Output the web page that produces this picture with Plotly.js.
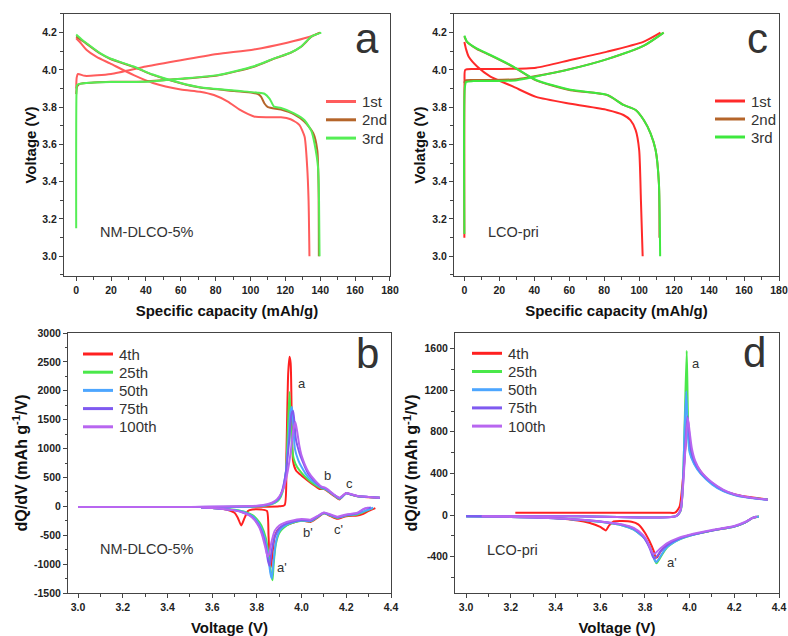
<!DOCTYPE html>
<html>
<head>
<meta charset="utf-8">
<script src="https://cdn.plot.ly/plotly-3.0.1.min.js"></script>
<style>
  html, body { margin: 0; padding: 0; background: #fff; }
  #chart { width: 788px; height: 636px; }
</style>
</head>
<body>
<div id="chart"></div>
<script>
// ---------- (a) NM-DLCO-5%: charge / discharge profiles ----------
const aCycleNames = ['1st', '2nd', '3rd'];
const a1ChgCap = [0, 0.3, 1, 5, 20, 40, 60, 81, 102, 121, 133, 140];
const a1ChgV   = [3.9, 3.96, 3.978, 3.968, 3.978, 4.018, 4.052, 4.085, 4.11, 4.146, 4.175, 4.2];
const a1DisCap = [0, 3, 6, 11.7, 19.4, 33, 44, 60, 71, 79, 87, 94, 102, 110, 117.5, 123, 128, 131, 132.5, 133.3, 133.8];
const a1DisV   = [4.17, 4.14, 4.107, 4.07, 4.035, 3.972, 3.93, 3.895, 3.883, 3.865, 3.83, 3.785, 3.75, 3.746, 3.746, 3.735, 3.705, 3.642, 3.48, 3.30, 3.0];

const a2ChgCap = [0, 0.5, 2, 10, 20, 40, 60, 81, 102, 113.7, 123, 129, 135, 140];
const a2ChgV   = [3.87, 3.91, 3.925, 3.932, 3.936, 3.938, 3.952, 3.97, 4.017, 4.061, 4.092, 4.124, 4.178, 4.2];
const a2DisCap = [0, 3, 6, 13.7, 19.4, 33, 44, 60, 71, 90.6, 101, 104, 106, 108, 110, 117.5, 125, 131, 136, 138.3, 139, 139.2];
const a2DisV   = [4.18, 4.16, 4.14, 4.088, 4.06, 4.016, 3.973, 3.928, 3.905, 3.887, 3.878, 3.872, 3.857, 3.82, 3.80, 3.787, 3.762, 3.722, 3.66, 3.57, 3.39, 3.0];

const a3ChgCap = [0, 0.2, 0.6, 6, 19.4, 40, 60.8, 81, 102, 113.7, 123, 129, 135, 140.6];
const a3ChgV   = [3.15, 3.88, 3.92, 3.93, 3.935, 3.936, 3.953, 3.972, 4.02, 4.062, 4.093, 4.125, 4.18, 4.2];
const a3DisCap = [0, 3, 6, 13.7, 19.4, 33, 44, 60, 71, 90.6, 104, 108, 111, 113.5, 117.5, 125, 131, 135, 136.7, 138.7, 139.3, 139.6];
const a3DisV   = [4.19, 4.165, 4.143, 4.09, 4.062, 4.018, 3.975, 3.93, 3.907, 3.889, 3.878, 3.872, 3.845, 3.803, 3.796, 3.767, 3.73, 3.67, 3.605, 3.48, 3.3, 3.0];

// ---------- (c) LCO-pri: charge / discharge profiles ----------
const cCycleNames = ['1st', '2nd', '3rd'];
const c1ChgCap = [0, 0.1, 0.5, 5, 20, 41, 60.7, 81.7, 102.7, 112.2];
const c1ChgV   = [3.1, 3.93, 4.0, 4.005, 4.005, 4.012, 4.053, 4.098, 4.152, 4.2];
const c1DisCap = [0, 1, 2.5, 7.3, 14.9, 28, 41, 60.7, 81.7, 91, 95, 98, 100, 101, 102];
const c1DisV   = [4.15, 4.11, 4.07, 4.018, 3.964, 3.91, 3.855, 3.818, 3.785, 3.758, 3.73, 3.677, 3.57, 3.30, 3.0];

const c2ChgCap = [0, 0.3, 1, 5, 15, 30, 41, 60.7, 81.7, 102.7, 114];
const c2ChgV   = [3.93, 3.94, 3.945, 3.946, 3.946, 3.95, 3.967, 4.005, 4.058, 4.13, 4.2];
const c2DisCap = [0, 1.5, 7, 14.9, 28, 41, 60.7, 81.7, 91, 98, 102.7, 106.5, 109.4, 111.3, 111.6];
const c2DisV   = [4.18, 4.15, 4.113, 4.078, 4.016, 3.944, 3.891, 3.865, 3.812, 3.785, 3.73, 3.66, 3.57, 3.39, 3.1];

const c3ChgCap = [0, 0.2, 1, 5, 15, 30, 41, 60.7, 81.7, 102.7, 114];
const c3ChgV   = [3.12, 3.9, 3.935, 3.94, 3.94, 3.945, 3.965, 4.004, 4.058, 4.13, 4.2];
const c3DisCap = [0, 1.5, 7, 14.9, 28, 41, 60.7, 81.7, 91, 98, 102.7, 106.5, 109.4, 111.3, 112];
const c3DisV   = [4.184, 4.152, 4.115, 4.08, 4.018, 3.946, 3.893, 3.866, 3.812, 3.785, 3.73, 3.66, 3.57, 3.39, 3.0];

// ---------- (b) NM-DLCO-5%: dQ/dV curves ----------
const bCycleNames = ['4th', '25th', '50th', '75th', '100th'];
const b4ChgV = [3.0, 3.5, 3.85, 3.9, 3.924, 3.932, 3.94, 3.946, 3.951, 3.956, 3.962, 3.975, 4.0, 4.05, 4.08, 4.1, 4.12, 4.145, 4.17, 4.19, 4.2, 4.22, 4.25, 4.3, 4.35];
const b4ChgQ = [-10, -10, -8, 0, 20, 900, 2300, 2590, 2480, 1500, 780, 620, 530, 380, 300, 300, 250, 180, 120, 200, 230, 205, 175, 158, 148];
const b4DisV = [4.33, 4.3, 4.27, 4.25, 4.2, 4.16, 4.13, 4.1, 4.07, 4.04, 4.0, 3.95, 3.9, 3.88, 3.87, 3.863, 3.858, 3.852, 3.845, 3.82, 3.8, 3.78, 3.76, 3.745, 3.73, 3.715, 3.7, 3.65, 3.6];
const b4DisQ = [-30, -80, -140, -160, -170, -215, -170, -120, -200, -270, -245, -300, -380, -520, -800, -1050, -1000, -500, -80, -55, -50, -55, -80, -200, -330, -200, -110, -45, -30];

const b25ChgV = [3.0, 3.5, 3.8, 3.85, 3.88, 3.9, 3.915, 3.93, 3.938, 3.946, 3.952, 3.958, 3.965, 3.98, 4.0, 4.03, 4.06, 4.09, 4.105, 4.12, 4.145, 4.17, 4.19, 4.2, 4.22, 4.25, 4.3, 4.35];
const b25ChgQ = [-10, -10, 0, 20, 60, 120, 250, 600, 1300, 1980, 1400, 1000, 820, 680, 580, 460, 370, 310, 300, 260, 190, 130, 195, 225, 205, 175, 160, 150];
const b25DisV = [4.32, 4.3, 4.25, 4.2, 4.16, 4.13, 4.1, 4.07, 4.04, 4.0, 3.95, 3.92, 3.9, 3.885, 3.875, 3.87, 3.865, 3.855, 3.84, 3.82, 3.8, 3.78, 3.75, 3.7, 3.65, 3.6, 3.55];
const b25DisQ = [-30, -60, -140, -160, -200, -160, -120, -190, -260, -250, -300, -370, -460, -650, -1000, -1280, -1200, -900, -550, -330, -220, -150, -100, -60, -40, -30, -20];

const b50ChgV = [3.0, 3.5, 3.8, 3.85, 3.88, 3.9, 3.915, 3.93, 3.942, 3.95, 3.957, 3.963, 3.97, 3.985, 4.0, 4.03, 4.06, 4.09, 4.105, 4.12, 4.145, 4.17, 4.19, 4.2, 4.22, 4.25, 4.3, 4.35];
const b50ChgQ = [-10, -10, 0, 25, 70, 140, 280, 600, 1200, 1650, 1720, 1400, 1000, 800, 680, 500, 400, 320, 305, 265, 195, 135, 195, 225, 205, 175, 160, 150];
const b50DisV = [4.32, 4.3, 4.25, 4.2, 4.16, 4.13, 4.1, 4.07, 4.04, 4.0, 3.95, 3.92, 3.9, 3.885, 3.873, 3.867, 3.86, 3.85, 3.835, 3.82, 3.8, 3.78, 3.75, 3.7, 3.65, 3.6, 3.55];
const b50DisQ = [-25, -55, -130, -155, -195, -155, -115, -185, -255, -245, -290, -350, -430, -620, -1000, -1250, -1150, -850, -550, -380, -250, -170, -110, -65, -45, -30, -20];

const b75ChgV = [3.0, 3.5, 3.8, 3.85, 3.88, 3.9, 3.915, 3.93, 3.945, 3.955, 3.962, 3.968, 3.975, 3.99, 4.0, 4.03, 4.06, 4.09, 4.105, 4.12, 4.145, 4.17, 4.19, 4.2, 4.22, 4.25, 4.3, 4.35];
const b75ChgQ = [-10, -10, 5, 30, 80, 150, 300, 600, 1150, 1600, 1650, 1450, 1150, 930, 820, 560, 430, 330, 315, 275, 200, 145, 200, 228, 210, 178, 162, 150];
const b75DisV = [4.31, 4.28, 4.25, 4.2, 4.16, 4.13, 4.1, 4.07, 4.04, 4.0, 3.95, 3.92, 3.9, 3.88, 3.865, 3.857, 3.85, 3.84, 3.825, 3.81, 3.79, 3.77, 3.74, 3.7, 3.65, 3.6, 3.55];
const b75DisQ = [-20, -45, -120, -150, -190, -150, -110, -180, -245, -235, -275, -320, -380, -520, -800, -1030, -950, -700, -480, -340, -230, -160, -110, -70, -45, -30, -20];

const b100ChgV = [3.0, 3.5, 3.8, 3.85, 3.88, 3.9, 3.92, 3.935, 3.95, 3.962, 3.972, 3.98, 3.99, 4.0, 4.03, 4.06, 4.09, 4.105, 4.12, 4.145, 4.17, 4.19, 4.2, 4.22, 4.25, 4.3, 4.35];
const b100ChgQ = [-10, -10, 10, 40, 90, 170, 320, 550, 900, 1300, 1460, 1300, 1050, 880, 600, 450, 340, 325, 285, 205, 150, 205, 230, 212, 180, 163, 150];
const b100DisV = [4.3, 4.28, 4.25, 4.2, 4.16, 4.13, 4.1, 4.07, 4.04, 4.0, 3.95, 3.92, 3.9, 3.88, 3.865, 3.855, 3.848, 3.84, 3.825, 3.81, 3.79, 3.77, 3.74, 3.7, 3.65, 3.6, 3.55];
const b100DisQ = [-20, -40, -110, -140, -180, -140, -105, -170, -230, -220, -255, -290, -330, -420, -620, -820, -870, -750, -520, -360, -240, -165, -110, -70, -45, -30, -20];

// ---------- (d) LCO-pri: dQ/dV curves ----------
const dCycleNames = ['4th', '25th', '50th', '75th', '100th'];
const d4ChgV = [3.22, 3.5, 3.9, 3.935, 3.955, 3.97, 3.98, 3.992, 4.0, 4.01, 4.03, 4.06, 4.1, 4.15, 4.2, 4.25, 4.3, 4.35];
const d4ChgQ = [22, 22, 22, 22, 80, 350, 620, 860, 680, 570, 480, 390, 300, 235, 200, 178, 163, 150];
const d4DisV = [4.31, 4.28, 4.25, 4.2, 4.1, 4.0, 3.95, 3.9, 3.87, 3.855, 3.848, 3.84, 3.82, 3.8, 3.77, 3.74, 3.7, 3.66, 3.64, 3.625, 3.6, 3.55, 3.5, 3.4, 3.3, 3.22];
const d4DisQ = [-15, -30, -70, -110, -150, -195, -230, -280, -350, -405, -410, -350, -250, -170, -90, -65, -58, -62, -100, -148, -115, -75, -52, -30, -20, -15];

const d25ChgV = [3.0, 3.5, 3.94, 3.96, 3.97, 3.978, 3.987, 3.993, 4.0, 4.02, 4.05, 4.1, 4.15, 4.2, 4.25, 4.3, 4.35];
const d25ChgQ = [-12, -12, -10, 40, 300, 900, 1580, 900, 620, 500, 400, 300, 235, 195, 172, 158, 148];
const d25DisV = [4.31, 4.28, 4.25, 4.2, 4.1, 4.0, 3.95, 3.9, 3.88, 3.86, 3.852, 3.845, 3.835, 3.82, 3.8, 3.75, 3.7, 3.6, 3.5, 3.4, 3.2, 3.0];
const d25DisQ = [-15, -30, -70, -110, -150, -200, -240, -310, -370, -440, -465, -440, -380, -300, -230, -140, -100, -65, -45, -30, -18, -12];

const d50ChgV = [3.0, 3.5, 3.94, 3.96, 3.97, 3.978, 3.985, 3.992, 4.0, 4.02, 4.05, 4.1, 4.15, 4.2, 4.25, 4.3, 4.35];
const d50ChgQ = [-12, -12, -10, 50, 320, 850, 1190, 800, 600, 490, 395, 295, 230, 192, 170, 156, 146];
const d50DisV = [4.31, 4.28, 4.25, 4.2, 4.1, 4.0, 3.95, 3.9, 3.88, 3.86, 3.85, 3.843, 3.833, 3.82, 3.8, 3.75, 3.7, 3.6, 3.5, 3.4, 3.2, 3.0];
const d50DisQ = [-15, -30, -70, -110, -150, -200, -238, -305, -360, -430, -455, -430, -370, -300, -230, -140, -100, -65, -45, -30, -18, -12];

const d75ChgV = [3.0, 3.5, 3.94, 3.96, 3.97, 3.98, 3.99, 3.997, 4.005, 4.02, 4.05, 4.1, 4.15, 4.2, 4.25, 4.3, 4.35];
const d75ChgQ = [-12, -12, -10, 50, 280, 650, 950, 820, 640, 520, 410, 310, 240, 198, 174, 158, 147];
const d75DisV = [4.3, 4.28, 4.25, 4.2, 4.1, 4.0, 3.95, 3.9, 3.87, 3.852, 3.842, 3.835, 3.825, 3.81, 3.79, 3.75, 3.7, 3.6, 3.5, 3.4, 3.2, 3.0];
const d75DisQ = [-15, -30, -68, -108, -148, -195, -230, -290, -350, -400, -420, -400, -340, -270, -200, -130, -95, -63, -44, -30, -18, -12];

const d100ChgV = [3.07, 3.5, 3.94, 3.96, 3.97, 3.98, 3.992, 4.0, 4.01, 4.025, 4.05, 4.1, 4.15, 4.2, 4.25, 4.3, 4.35];
const d100ChgQ = [-12, -12, -10, 50, 260, 600, 935, 800, 640, 520, 420, 315, 245, 200, 176, 160, 148];
const d100DisV = [4.3, 4.28, 4.25, 4.2, 4.1, 4.0, 3.95, 3.9, 3.87, 3.85, 3.84, 3.832, 3.822, 3.81, 3.79, 3.75, 3.7, 3.6, 3.5, 3.4, 3.2, 3.07];
const d100DisQ = [-15, -30, -65, -105, -145, -190, -220, -270, -320, -360, -375, -360, -310, -250, -190, -125, -92, -62, -43, -30, -18, -12];

// ---------- axis ticks ----------
const aXTicks = [0, 20, 40, 60, 80, 100, 120, 140, 160, 180];
const aYTicks = [3.0, 3.2, 3.4, 3.6, 3.8, 4.0, 4.2];
const bXTicks = [3.0, 3.2, 3.4, 3.6, 3.8, 4.0, 4.2, 4.4];
const bYTicks = [-1500, -1000, -500, 0, 500, 1000, 1500, 2000, 2500, 3000];
const bYLabels = ['-1500', '-1000', '-500', '0', '500', '1000', '1500', '2000', '2500', '3000'];
const dYTicks = [-400, 0, 400, 800, 1200, 1600];
const dYLabels = ['-400', '0', '400', '800', '1200', '1600'];

// ---------- colours ----------
const cColors = ['#ff2a2a', '#b5652a', '#3ee83e'];
const aColors = ['#ff5c5c', '#b5652a', '#55ee55'];
const bdColors = ['#ff2020', '#4ae84a', '#4da6ff', '#7f5af0', '#b866f0'];

const FONT = 'Liberation Sans, Arial, Helvetica, sans-serif';

// join a charge branch and a discharge branch into one line with a break
function joinBranches(x1, y1, x2, y2) {
  return { x: x1.concat([null], x2), y: y1.concat([null], y2) };
}

function lineTrace(d, name, color, xa, ya) {
  return {
    type: 'scatter', mode: 'lines', x: d.x, y: d.y, name: name,
    xaxis: xa, yaxis: ya, showlegend: false,
    line: { color: color, width: 2, shape: 'spline', smoothing: 0.6 },
    connectgaps: false, hoverinfo: 'skip'
  };
}

const traces = [];
const aSets = [[a1ChgCap, a1ChgV, a1DisCap, a1DisV], [a2ChgCap, a2ChgV, a2DisCap, a2DisV], [a3ChgCap, a3ChgV, a3DisCap, a3DisV]];
aSets.forEach((s, i) => traces.push(lineTrace(joinBranches(...s), aCycleNames[i], aColors[i], 'x', 'y')));
const cSets = [[c1ChgCap, c1ChgV, c1DisCap, c1DisV], [c2ChgCap, c2ChgV, c2DisCap, c2DisV], [c3ChgCap, c3ChgV, c3DisCap, c3DisV]];
cSets.forEach((s, i) => traces.push(lineTrace(joinBranches(...s), cCycleNames[i], cColors[i], 'x2', 'y2')));
const bSets = [[b4ChgV, b4ChgQ, b4DisV, b4DisQ], [b25ChgV, b25ChgQ, b25DisV, b25DisQ], [b50ChgV, b50ChgQ, b50DisV, b50DisQ], [b75ChgV, b75ChgQ, b75DisV, b75DisQ], [b100ChgV, b100ChgQ, b100DisV, b100DisQ]];
bSets.forEach((s, i) => traces.push(lineTrace(joinBranches(...s), bCycleNames[i], bdColors[i], 'x3', 'y3')));
const dSets = [[d4ChgV, d4ChgQ, d4DisV, d4DisQ], [d25ChgV, d25ChgQ, d25DisV, d25DisQ], [d50ChgV, d50ChgQ, d50DisV, d50DisQ], [d75ChgV, d75ChgQ, d75DisV, d75DisQ], [d100ChgV, d100ChgQ, d100DisV, d100DisQ]];
dSets.forEach((s, i) => traces.push(lineTrace(joinBranches(...s), dCycleNames[i], bdColors[i], 'x4', 'y4')));

function axisBase(extra) {
  return Object.assign({
    showgrid: false, zeroline: false, showline: true, mirror: true,
    linecolor: '#444', linewidth: 1, ticks: 'outside', ticklen: 4, tickwidth: 1, tickcolor: '#444',
    tickfont: { family: FONT, size: 10.5, color: '#222', weight: 'bold' },
    fixedrange: true
  }, extra);
}
function minorTicks(step) {
  return { dtick: step, ticks: 'outside', ticklen: 2.5, tickcolor: '#444', showgrid: false };
}

const titleFont = { family: FONT, size: 15, color: '#111', weight: 'bold' };
const dqTitleFont = { family: FONT, size: 16, color: '#111', weight: 'bold' };

// compact legends drawn as paper-space samples + labels (px positions on the 788x636 page)
const W = 788, H = 636;
const legendShapes = [];
const legendLabels = [];
function addLegend(names, colors, lineX0, rowY0, rowGap) {
  names.forEach((n, i) => {
    const py = rowY0 + i * rowGap;
    legendShapes.push({ type: 'line', xref: 'paper', yref: 'paper',
      x0: lineX0 / W, x1: (lineX0 + 30) / W, y0: 1 - py / H, y1: 1 - py / H,
      line: { color: colors[i], width: 3 } });
    legendLabels.push({ text: n, xref: 'paper', yref: 'paper', x: (lineX0 + 34) / W, y: 1 - py / H,
      xanchor: 'left', yanchor: 'middle', showarrow: false,
      font: { family: FONT, size: 15, color: '#333' } });
  });
}
addLegend(aCycleNames, aColors, 326, 101.5, 18.3);
addLegend(cCycleNames, cColors, 715, 101, 18);
addLegend(bCycleNames, bdColors, 83, 354, 18.2);
addLegend(dCycleNames, bdColors, 472, 353.3, 18.2);

function note(text, x, y, xr, yr, size) {
  return { text: text, x: x, y: y, xref: xr, yref: yr, showarrow: false,
           font: { family: FONT, size: size, color: '#333' }, xanchor: 'center', yanchor: 'middle' };
}

const layout = {
  width: W, height: H,
  margin: { l: 0, r: 0, t: 0, b: 0 },
  paper_bgcolor: '#fff', plot_bgcolor: '#fff',
  showlegend: false,
  xaxis: axisBase({ domain: [0.0812, 0.4949], range: [-7, 180], tickvals: aXTicks, minor: minorTicks(10), anchor: 'y',
    title: { text: 'Specific capacity (mAh/g)', font: titleFont, standoff: 10 } }),
  yaxis: axisBase({ domain: [0.566, 0.978], range: [2.894, 4.3], tickvals: aYTicks, tickformat: '.1f', minor: minorTicks(0.1), anchor: 'x',
    title: { text: 'Voltage (V)', font: titleFont, standoff: 2 } }),
  xaxis2: axisBase({ domain: [0.576, 0.9886], range: [-6, 180], tickvals: aXTicks, minor: minorTicks(10), anchor: 'y2',
    title: { text: 'Specific capacity (mAh/g)', font: titleFont, standoff: 10 } }),
  yaxis2: axisBase({ domain: [0.566, 0.978], range: [2.894, 4.3], tickvals: aYTicks, tickformat: '.1f', minor: minorTicks(0.1), anchor: 'x2',
    title: { text: 'Volatge (V)', font: titleFont, standoff: 2 } }),
  xaxis3: axisBase({ domain: [0.0863, 0.4962], range: [2.955, 4.4], tickvals: bXTicks, tickformat: '.1f', minor: minorTicks(0.1), anchor: 'y3',
    title: { text: 'Voltage (V)', font: titleFont, standoff: 11 } }),
  yaxis3: axisBase({ domain: [0.0676, 0.4764], range: [-1500, 3000], tickvals: bYTicks, ticktext: bYLabels, minor: minorTicks(250), anchor: 'x3',
    title: { text: 'dQ/dV (mAh g<sup>-1</sup>/V)', font: dqTitleFont, standoff: 2 } }),
  xaxis4: axisBase({ domain: [0.5774, 0.9886], range: [2.95, 4.4], tickvals: bXTicks, tickformat: '.1f', minor: minorTicks(0.1), anchor: 'y4',
    title: { text: 'Voltage (V)', font: titleFont, standoff: 11 } }),
  yaxis4: axisBase({ domain: [0.0676, 0.4764], range: [-750, 1750], tickvals: dYTicks, ticktext: dYLabels, minor: minorTicks(200), anchor: 'x4',
    title: { text: 'dQ/dV (mAh g<sup>-1</sup>/V)', font: dqTitleFont, standoff: 2 } }),
  shapes: legendShapes,
  annotations: legendLabels.concat([
    note('a', 167, 4.17, 'x', 'y', 42),
    note('c', 167.5, 4.17, 'x2', 'y2', 42),
    note('b', 4.297, 2643, 'x3', 'y3', 42),
    note('d', 4.292, 1560, 'x4', 'y4', 42),
    note('NM-DLCO-5%', 40.6, 3.13, 'x', 'y', 14.5),
    note('LCO-pri', 28, 3.13, 'x2', 'y2', 14.5),
    note('NM-DLCO-5%', 3.309, -747, 'x3', 'y3', 14.5),
    note('LCO-pri', 3.209, -336, 'x4', 'y4', 14.5),
    note('a', 4.002, 2126, 'x3', 'y3', 13),
    note('b', 4.118, 540, 'x3', 'y3', 13),
    note('c', 4.216, 402, 'x3', 'y3', 13),
    note("b'", 4.029, -460, 'x3', 'y3', 13),
    note("c'", 4.163, -409, 'x3', 'y3', 13),
    note("a'", 3.912, -1064, 'x3', 'y3', 13),
    note('a', 4.028, 1453, 'x4', 'y4', 13),
    note("a'", 3.921, -460, 'x4', 'y4', 13)
  ])
};

Plotly.newPlot('chart', traces, layout, { staticPlot: true, displayModeBar: false });
</script>
</body>
</html>
